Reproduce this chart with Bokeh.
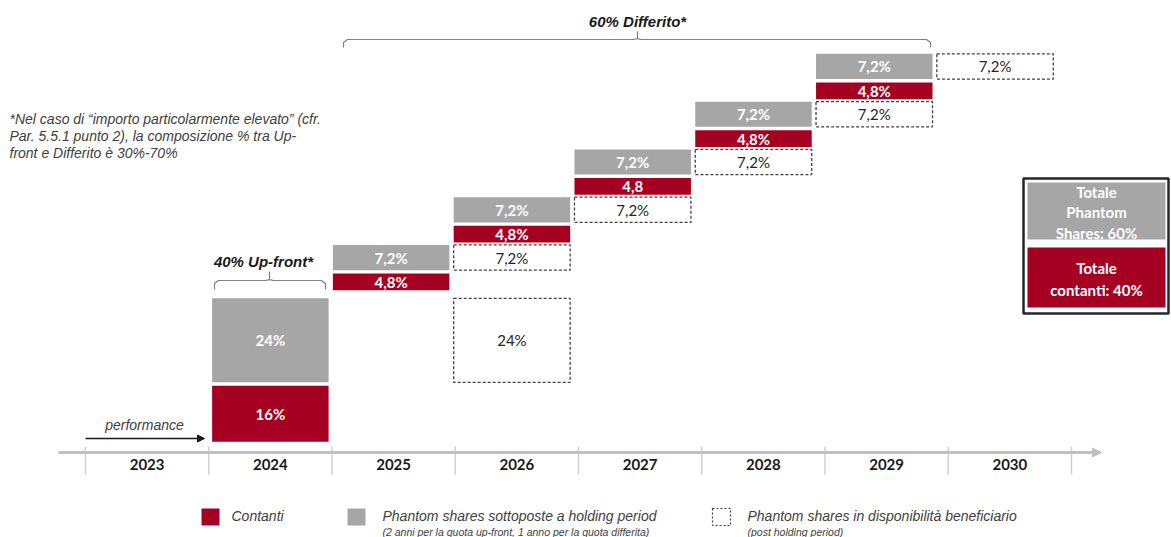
from bokeh.plotting import figure
from bokeh.models import ColumnDataSource, Range1d, Arrow, NormalHead
from bokeh.core.properties import value
from bokeh.embed import file_html
from bokeh.resources import INLINE

# ---------------- data ----------------
years = [2023, 2024, 2025, 2026, 2027, 2028, 2029, 2030]
year_labels = ["2023", "2024", "2025", "2026", "2027", "2028", "2029", "2030"]

upfront_year = 2024
upfront_cash = 16.0
upfront_cash_label = "16%"
upfront_shares = 24.0
upfront_shares_label = "24%"
upfront_release_year = 2026

deferred_years = [2025, 2026, 2027, 2028, 2029]
deferred_cash = [4.8, 4.8, 4.8, 4.8, 4.8]
deferred_cash_labels = ["4,8%", "4,8%", "4,8", "4,8%", "4,8%"]
deferred_shares = [7.2, 7.2, 7.2, 7.2, 7.2]
deferred_shares_labels = ["7,2%", "7,2%", "7,2%", "7,2%", "7,2%"]
released_labels = ["7,2%", "7,2%", "7,2%", "7,2%", "7,2%"]

total_shares_lines = ["Totale", "Phantom", "Shares: 60%"]
total_cash_lines = ["Totale", "contanti: 40%"]

upfront_title = "40% Up-front*"
deferred_title = "60% Differito*"
performance_label = "performance"
note_lines = [
    "*Nel caso di \u201cimporto particolarmente elevato\u201d (cfr.",
    "Par. 5.5.1 punto 2), la composizione % tra Up-",
    "front e Differito \u00e8 30%-70%",
]
legend_labels = ["Contanti",
                 "Phantom shares sottoposte a holding period",
                 "Phantom shares in disponibilit\u00e0 beneficiario"]
legend_sublabels = ["",
                    "(2 anni per la quota up-front, 1 anno per la quota differita)",
                    "(post holding period)"]

# ---------------- style / layout ----------------
RED = "#A50021"
GRAY = "#A6A6A6"
DASH = "#404040"
CAL = value("Lato")
ARI = value("Liberation Sans")

W, H = 1171, 537
COL_PX = 123.25          # pixels per year column
UNIT_PX = 3.5            # pixels per percentage point
X0 = 2023 - 146.6 / COL_PX
Y_AXIS_PX = 452


def X(px):
    return X0 + px / COL_PX


def Y(py):
    return (Y_AXIS_PX - py) / UNIT_PX


BAR_STEP = 0.98
BAR_W = 0.945
BASE = 3.1
GAP_IN = 0.95
GAP_FIRST = 2.3
GAP_STEP = 0.7


def bx(yr):
    return upfront_year + (yr - upfront_year) * BAR_STEP


solid = dict(left=[], right=[], bottom=[], top=[], color=[], x=[], y=[], label=[])
dashed = dict(left=[], right=[], bottom=[], top=[], x=[], y=[], label=[])


def add_solid(yr, b, t, color, label):
    c = bx(yr)
    solid["left"].append(c - BAR_W / 2)
    solid["right"].append(c + BAR_W / 2)
    solid["bottom"].append(b)
    solid["top"].append(t)
    solid["color"].append(color)
    solid["x"].append(c)
    solid["y"].append((b + t) / 2)
    solid["label"].append(label)


def add_dashed(yr, b, t, label):
    c = bx(yr)
    dashed["left"].append(c - BAR_W / 2)
    dashed["right"].append(c + BAR_W / 2)
    dashed["bottom"].append(b)
    dashed["top"].append(t)
    dashed["x"].append(c)
    dashed["y"].append((b + t) / 2)
    dashed["label"].append(label)


c_bot = BASE
c_top = c_bot + upfront_cash
s_bot = c_top + GAP_IN
s_top = s_bot + upfront_shares
add_solid(upfront_year, c_bot, c_top, RED, upfront_cash_label)
add_solid(upfront_year, s_bot, s_top, GRAY, upfront_shares_label)
add_dashed(upfront_release_year, s_bot, s_top, upfront_shares_label)

prev_top = s_top
for i, yr in enumerate(deferred_years):
    gap = GAP_FIRST if i == 0 else GAP_STEP
    rb = prev_top + gap
    rt = rb + deferred_cash[i]
    gb = rt + GAP_IN
    gt = gb + deferred_shares[i]
    add_solid(yr, rb, rt, RED, deferred_cash_labels[i])
    add_solid(yr, gb, gt, GRAY, deferred_shares_labels[i])
    add_dashed(yr + 1, gb, gt, released_labels[i])
    prev_top = gt

p = figure(width=W, height=H, x_range=Range1d(X(0), X(W)),
           y_range=Range1d(Y(H), Y(0)), output_backend="svg",
           toolbar_location=None, x_axis_type=None, y_axis_type=None,
           min_border=0)
p.grid.visible = False
p.outline_line_color = None
p.background_fill_color = "white"
p.border_fill_color = "white"

# --- time axis ---
p.add_layout(Arrow(end=NormalHead(size=9, fill_color="#C0C0C0", line_color="#C0C0C0"),
                   x_start=X(58), y_start=0, x_end=X(1101), y_end=0,
                   line_color="#C0C0C0", line_width=3))
div_x = [yr - 0.5 for yr in years] + [years[-1] + 0.5]
p.segment(x0=div_x, x1=div_x, y0=[Y(446)] * len(div_x), y1=[Y(474)] * len(div_x),
          line_color="#D0D0D0", line_width=1.5)
p.text(x=years, y=[Y(464)] * len(years), text=year_labels, text_align="center",
       text_baseline="middle", text_font=CAL, text_font_style="bold",
       text_font_size="15px", text_color="#1A1A1A")

# --- performance arrow ---
p.add_layout(Arrow(end=NormalHead(size=7, fill_color="#1A1A1A", line_color="#1A1A1A"),
                   x_start=X(85), y_start=Y(438), x_end=X(204), y_end=Y(438),
                   line_color="#1A1A1A", line_width=1.3))
p.text(x=[X(144)], y=[Y(424)], text=[performance_label], text_align="center",
       text_baseline="middle", text_font=ARI, text_font_style="italic",
       text_font_size="14px", text_color="#404040")

# --- boxes ---
ssrc = ColumnDataSource(solid)
p.quad(left="left", right="right", bottom="bottom", top="top", fill_color="color",
       line_color=None, source=ssrc)
p.text(x="x", y="y", text="label", source=ssrc, text_align="center",
       text_baseline="middle", text_font=CAL, text_font_style="bold",
       text_font_size="15px", text_color="white")
dsrc = ColumnDataSource(dashed)
p.quad(left="left", right="right", bottom="bottom", top="top", fill_color="white",
       line_color=DASH, line_dash="3 2", line_width=1.3, source=dsrc)
p.text(x="x", y="y", text="label", source=dsrc, text_align="center",
       text_baseline="middle", text_font=CAL, text_font_size="15px",
       text_color="#262626")


# --- braces ---
def brace(L, R, C, y_line, y_end, y_peak):
    dx = 4 / COL_PX
    dy = 3 / UNIT_PX
    xs = [L, L, L + dx, C - dx, C, C, C, C + dx, R - dx, R, R]
    ys = [y_end, y_line - dy, y_line, y_line, y_line + dy * 0.3, y_peak,
          y_line + dy * 0.3, y_line, y_line, y_line - dy, y_end]
    p.line(xs, ys, line_color="#808080", line_width=1.2)


brace(X(214), X(325), X(269), Y(280), Y(289), Y(271))
brace(X(343), X(930), X(637), Y(39), Y(47), Y(31))
p.text(x=[X(263)], y=[Y(261)], text=[upfront_title], text_align="center",
       text_baseline="middle", text_font=ARI, text_font_style="bold italic",
       text_font_size="15px", text_color="#1A1A1A")
p.text(x=[X(637)], y=[Y(21)], text=[deferred_title], text_align="center",
       text_baseline="middle", text_font=ARI, text_font_style="bold italic",
       text_font_size="15px", text_color="#1A1A1A")

# --- note ---
p.text(x=[X(9)] * 3, y=[Y(118), Y(135), Y(152)], text=note_lines, text_align="left",
       text_baseline="middle", text_font=ARI, text_font_style="italic",
       text_font_size="14px", text_color="#404040")

# --- totals box ---
p.quad(left=[X(1023)], right=[X(1168)], bottom=[Y(313)], top=[Y(178)],
       fill_color=None, line_color="#262626", line_width=2.5)
p.quad(left=[X(1027), X(1027)], right=[X(1165), X(1165)],
       bottom=[Y(239), Y(307)], top=[Y(182), Y(247)],
       fill_color=[GRAY, RED], line_color=None)
p.text(x=[X(1096)] * 3, y=[Y(191), Y(211.5), Y(232)], text=total_shares_lines,
       text_align="center", text_baseline="middle", text_font=CAL,
       text_font_style="bold", text_font_size="15px", text_color="white")
p.text(x=[X(1096)] * 2, y=[Y(267), Y(289)], text=total_cash_lines,
       text_align="center", text_baseline="middle", text_font=CAL,
       text_font_style="bold", text_font_size="15px", text_color="white")

# --- bottom legend ---
leg_x = [201, 347, 712]
leg_txt_x = [231, 382, 747]
p.quad(left=[X(leg_x[0]), X(leg_x[1])], right=[X(leg_x[0] + 18), X(leg_x[1] + 18)],
       bottom=[Y(525)] * 2, top=[Y(508)] * 2, fill_color=[RED, GRAY], line_color=None)
p.quad(left=[X(leg_x[2])], right=[X(leg_x[2] + 18)], bottom=[Y(525)], top=[Y(508)],
       fill_color="white", line_color=DASH, line_dash="2 2", line_width=1.2)
p.text(x=[X(v) for v in leg_txt_x], y=[Y(515)] * 3, text=legend_labels,
       text_align="left", text_baseline="middle", text_font=ARI,
       text_font_style="italic", text_font_size="14px", text_color="#404040")
p.text(x=[X(v) for v in leg_txt_x[1:]], y=[Y(531)] * 2, text=legend_sublabels[1:],
       text_align="left", text_baseline="middle", text_font=ARI,
       text_font_style="italic", text_font_size="10.5px", text_color="#404040")

open("out.html", "w").write(file_html(p, INLINE))
